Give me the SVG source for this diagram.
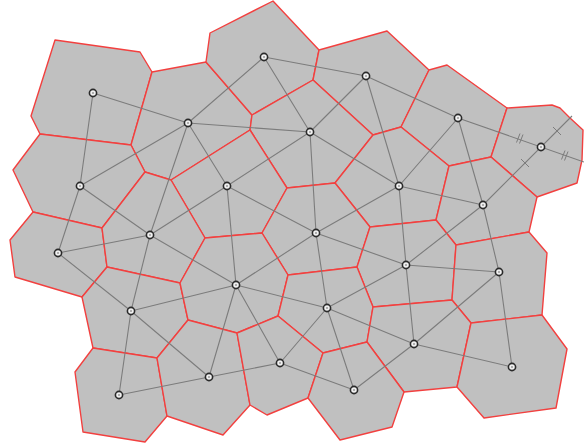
<svg xmlns="http://www.w3.org/2000/svg" width="584" height="448" viewBox="0 0 584 448">
<style>
.cell{fill:#c0c0c0;stroke:#f2403f;stroke-width:1.4;stroke-linejoin:round}
.edge{stroke:#7c7c7c;stroke-width:1.1;fill:none}
.tick{stroke:#7c7c7c;stroke-width:1;fill:none}
.ring{fill:#f0f0f0;stroke:#2a2a2a;stroke-width:1.6}
.dot{fill:#999}
</style>
<rect width="584" height="448" fill="#ffffff"/>
<g id="cells">
<polygon id="cell1" class="cell" points="55,40 140,52 152,72 131,145 40,134 31,116"/>
<polygon id="cell2" class="cell" points="152,72 206,62 252,115 250,130 171,180 145,172 131,145"/>
<polygon id="cell3" class="cell" points="210,33 273,1 319,50 313,80 252,115 206,62"/>
<polygon id="cell4" class="cell" points="319,50 387,31 429,70 401,127 373,135 313,80"/>
<polygon id="cell5" class="cell" points="252,115 313,80 373,135 335,183 287,188 250,130"/>
<polygon id="cell6" class="cell" points="429,70 447,65 507,108 491,157 449,166 401,127"/>
<polygon id="cell7" class="cell" points="507,108 552,105 560,108 570,118 583,130 582,160 577,183 537,197 491,157"/>
<polygon id="cell8" class="cell" points="40,134 131,145 145,172 102,228 33,212 13,170"/>
<polygon id="cell9" class="cell" points="171,180 250,130 287,188 262,233 205,238"/>
<polygon id="cell10" class="cell" points="373,135 401,127 449,166 436,220 370,227 335,183"/>
<polygon id="cell11" class="cell" points="449,166 491,157 537,197 529,232 456,245 436,220"/>
<polygon id="cell12" class="cell" points="33,212 102,228 107,267 82,297 15,277 10,240"/>
<polygon id="cell13" class="cell" points="145,172 171,180 205,238 180,283 107,267 102,228"/>
<polygon id="cell14" class="cell" points="287,188 335,183 370,227 357,267 288,275 262,233"/>
<polygon id="cell15" class="cell" points="370,227 436,220 456,245 452,300 373,307 357,267"/>
<polygon id="cell16" class="cell" points="456,245 529,232 547,253 544,290 542,315 471,323 452,300"/>
<polygon id="cell17" class="cell" points="107,267 180,283 188,320 157,358 93,348 82,297"/>
<polygon id="cell18" class="cell" points="205,238 262,233 288,275 278,316 237,333 188,320 180,283"/>
<polygon id="cell19" class="cell" points="288,275 357,267 373,307 367,342 323,353 278,316"/>
<polygon id="cell20" class="cell" points="373,307 452,300 471,323 457,387 404,392 367,342"/>
<polygon id="cell21" class="cell" points="471,323 542,315 567,349 556,408 484,418 457,387"/>
<polygon id="cell22" class="cell" points="93,348 157,358 167,416 145,442 83,432 75,372"/>
<polygon id="cell23" class="cell" points="157,358 188,320 237,333 250,405 223,435 167,416"/>
<polygon id="cell24" class="cell" points="237,333 278,316 323,353 308,398 267,415 250,405"/>
<polygon id="cell25" class="cell" points="323,353 367,342 404,392 392,427 340,440 308,398"/>
</g>
<g id="connectors">
<path class="edge" d="M93,93L188,123 M93,93L80,186 M188,123L264,57 M188,123L310,132 M188,123L80,186 M188,123L227,186 M188,123L150,235
M264,57L366,76 M264,57L310,132 M366,76L310,132 M366,76L458,118 M366,76L399,186
M310,132L227,186 M310,132L399,186 M310,132L316,233
M458,118L399,186 M458,118L483,205 M458,118L584,162 M483,205L572,116
M80,186L58,253 M80,186L150,235
M227,186L150,235 M227,186L316,233 M227,186L236,285
M399,186L483,205 M399,186L316,233 M399,186L406,265
M483,205L406,265 M483,205L499,272
M58,253L150,235 M58,253L131,311
M150,235L131,311 M150,235L236,285
M316,233L406,265 M316,233L236,285 M316,233L327,308
M406,265L499,272 M406,265L327,308 M406,265L414,344
M499,272L414,344 M499,272L512,367
M131,311L236,285 M131,311L119,395 M131,311L209,377
M236,285L327,308 M236,285L209,377 M236,285L280,363
M327,308L414,344 M327,308L280,363 M327,308L354,390
M414,344L512,367 M414,344L354,390
M119,395L209,377 M209,377L280,363 M280,363L354,390"/>
<path class="tick" d="M516.5,142.5L520,133.5 M519.5,143.5L523,134.5 M561.5,159.5L565,150.5 M564.5,160.5L568,151.5 M521,159L529,167 M553,127L561,135"/>
</g>
<g id="site1"><circle class="ring" cx="93" cy="93" r="3.6"/><circle class="dot" cx="93" cy="93" r="1"/></g>
<g id="site2"><circle class="ring" cx="188" cy="123" r="3.6"/><circle class="dot" cx="188" cy="123" r="1"/></g>
<g id="site3"><circle class="ring" cx="264" cy="57" r="3.6"/><circle class="dot" cx="264" cy="57" r="1"/></g>
<g id="site4"><circle class="ring" cx="366" cy="76" r="3.6"/><circle class="dot" cx="366" cy="76" r="1"/></g>
<g id="site5"><circle class="ring" cx="310" cy="132" r="3.6"/><circle class="dot" cx="310" cy="132" r="1"/></g>
<g id="site6"><circle class="ring" cx="458" cy="118" r="3.6"/><circle class="dot" cx="458" cy="118" r="1"/></g>
<g id="site7"><circle class="ring" cx="541" cy="147" r="3.6"/><circle class="dot" cx="541" cy="147" r="1"/></g>
<g id="site8"><circle class="ring" cx="80" cy="186" r="3.6"/><circle class="dot" cx="80" cy="186" r="1"/></g>
<g id="site9"><circle class="ring" cx="227" cy="186" r="3.6"/><circle class="dot" cx="227" cy="186" r="1"/></g>
<g id="site10"><circle class="ring" cx="399" cy="186" r="3.6"/><circle class="dot" cx="399" cy="186" r="1"/></g>
<g id="site11"><circle class="ring" cx="483" cy="205" r="3.6"/><circle class="dot" cx="483" cy="205" r="1"/></g>
<g id="site12"><circle class="ring" cx="58" cy="253" r="3.6"/><circle class="dot" cx="58" cy="253" r="1"/></g>
<g id="site13"><circle class="ring" cx="150" cy="235" r="3.6"/><circle class="dot" cx="150" cy="235" r="1"/></g>
<g id="site14"><circle class="ring" cx="316" cy="233" r="3.6"/><circle class="dot" cx="316" cy="233" r="1"/></g>
<g id="site15"><circle class="ring" cx="406" cy="265" r="3.6"/><circle class="dot" cx="406" cy="265" r="1"/></g>
<g id="site16"><circle class="ring" cx="499" cy="272" r="3.6"/><circle class="dot" cx="499" cy="272" r="1"/></g>
<g id="site17"><circle class="ring" cx="131" cy="311" r="3.6"/><circle class="dot" cx="131" cy="311" r="1"/></g>
<g id="site18"><circle class="ring" cx="236" cy="285" r="3.6"/><circle class="dot" cx="236" cy="285" r="1"/></g>
<g id="site19"><circle class="ring" cx="327" cy="308" r="3.6"/><circle class="dot" cx="327" cy="308" r="1"/></g>
<g id="site20"><circle class="ring" cx="414" cy="344" r="3.6"/><circle class="dot" cx="414" cy="344" r="1"/></g>
<g id="site21"><circle class="ring" cx="512" cy="367" r="3.6"/><circle class="dot" cx="512" cy="367" r="1"/></g>
<g id="site22"><circle class="ring" cx="119" cy="395" r="3.6"/><circle class="dot" cx="119" cy="395" r="1"/></g>
<g id="site23"><circle class="ring" cx="209" cy="377" r="3.6"/><circle class="dot" cx="209" cy="377" r="1"/></g>
<g id="site24"><circle class="ring" cx="280" cy="363" r="3.6"/><circle class="dot" cx="280" cy="363" r="1"/></g>
<g id="site25"><circle class="ring" cx="354" cy="390" r="3.6"/><circle class="dot" cx="354" cy="390" r="1"/></g>
</svg>
